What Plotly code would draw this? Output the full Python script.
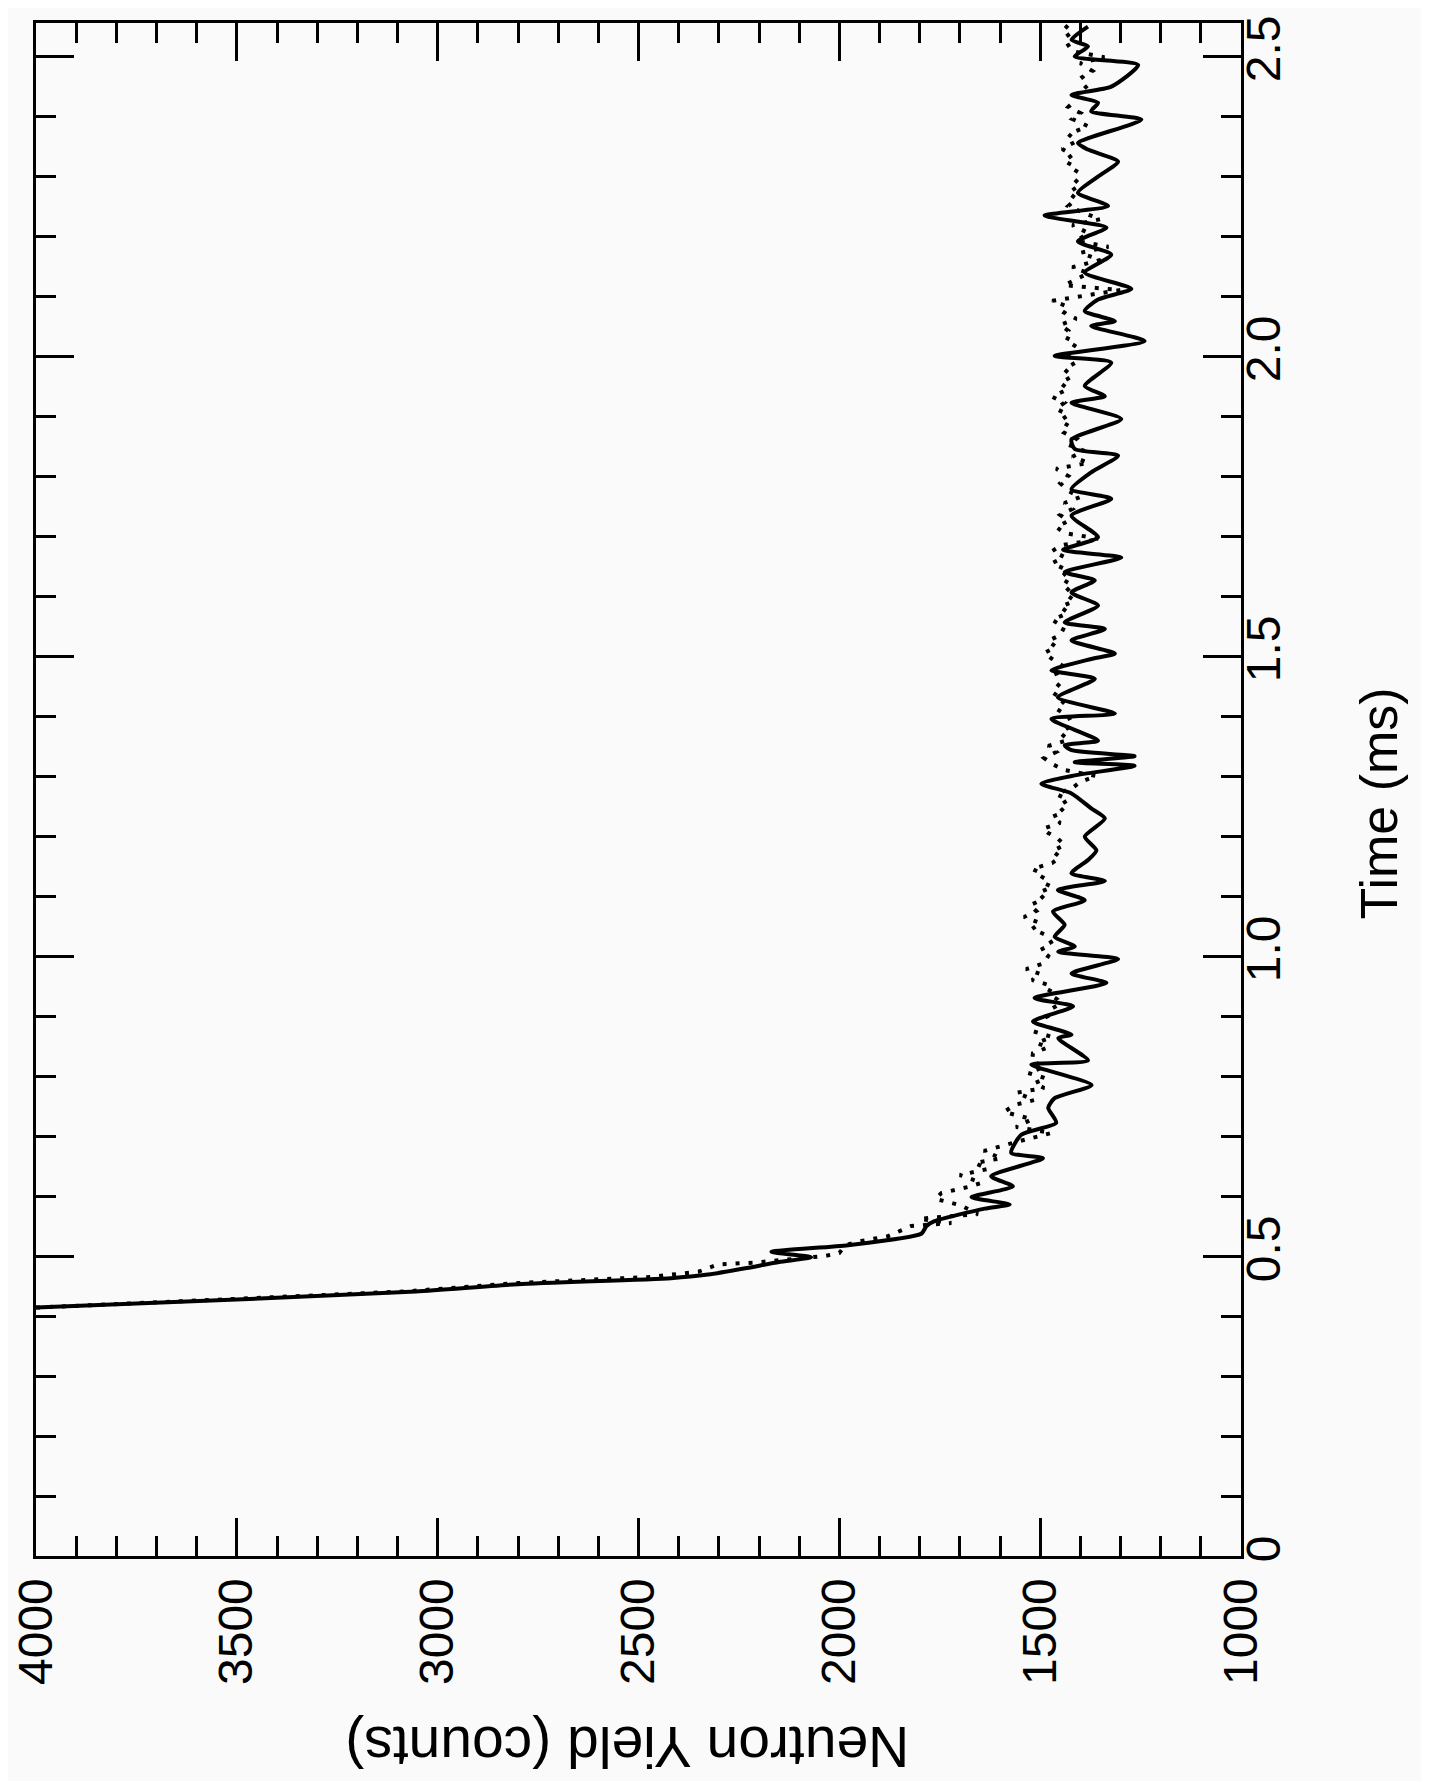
import plotly.graph_objects as go

# Solid trace: time (ms) and neutron yield (counts)
solid_time = [0.414, 0.428, 0.441, 0.453, 0.463, 0.469, 0.480, 0.490, 0.498, 0.507,
              0.518, 0.537, 0.550, 0.558, 0.579, 0.586, 0.598, 0.616, 0.633, 0.663,
              0.672, 0.702, 0.722, 0.747, 0.763, 0.785, 0.819, 0.826, 0.863, 0.869,
              0.891, 0.916, 0.930, 0.955, 0.971, 0.995, 1.007, 1.016, 1.032, 1.052,
              1.074, 1.093, 1.110, 1.125, 1.138, 1.160, 1.176, 1.199, 1.229, 1.246,
              1.271, 1.287, 1.301, 1.317, 1.323, 1.333, 1.343, 1.351, 1.359, 1.395,
              1.404, 1.431, 1.462, 1.476, 1.495, 1.504, 1.526, 1.545, 1.556, 1.584,
              1.606, 1.626, 1.640, 1.664, 1.677, 1.698, 1.734, 1.762, 1.778, 1.806,
              1.834, 1.845, 1.861, 1.895, 1.922, 1.933, 1.950, 1.989, 2.000, 2.025,
              2.050, 2.058, 2.075, 2.094, 2.112, 2.139, 2.169, 2.191, 2.214, 2.234,
              2.250, 2.272, 2.299, 2.324, 2.344, 2.355, 2.394, 2.408, 2.422, 2.435,
              2.449, 2.485, 2.499, 2.516, 2.527, 2.549]
solid_yield = [4000, 3485, 3054, 2800, 2419, 2327, 2230, 2150, 2070, 2169,
               1978, 1796, 1783, 1763, 1638, 1576, 1671, 1568, 1622, 1493,
               1572, 1547, 1460, 1480, 1464, 1372, 1522, 1381, 1455, 1422,
               1518, 1418, 1514, 1335, 1422, 1306, 1455, 1414, 1464, 1439,
               1468, 1389, 1456, 1339, 1422, 1381, 1360, 1389, 1339, 1373,
               1422, 1497, 1414, 1265, 1414, 1265, 1422, 1439, 1356, 1472,
               1314, 1456, 1364, 1472, 1373, 1314, 1422, 1339, 1439, 1356,
               1422, 1364, 1439, 1298, 1443, 1356, 1422, 1323, 1422, 1373,
               1306, 1414, 1422, 1298, 1422, 1339, 1389, 1323, 1464, 1240,
               1373, 1314, 1389, 1356, 1273, 1389, 1323, 1406, 1335, 1489,
               1331, 1406, 1356, 1306, 1381, 1406, 1248, 1373, 1356, 1422,
               1323, 1256, 1414, 1381, 1422, 1381]

# Dotted trace
dot_time = [0.414, 0.428, 0.441, 0.455, 0.465, 0.474, 0.486, 0.489, 0.500, 0.505,
            0.518, 0.525, 0.533, 0.550, 0.555, 0.562, 0.570, 0.585, 0.595, 0.605,
            0.615, 0.622, 0.635, 0.645, 0.655, 0.663, 0.675, 0.690, 0.705, 0.715,
            0.728, 0.740, 0.752, 0.760, 0.772, 0.780, 0.788, 0.796, 0.805, 0.815,
            0.825, 0.838, 0.848, 0.855, 0.865, 0.875, 0.888, 0.900, 0.912, 0.920,
            0.927, 0.938, 0.950, 0.960, 0.970, 0.978, 0.988, 1.000, 1.010, 1.020,
            1.035, 1.045, 1.055, 1.065, 1.075, 1.085, 1.095, 1.105, 1.115, 1.125,
            1.136, 1.145, 1.155, 1.165, 1.175, 1.185, 1.198, 1.205, 1.212, 1.222,
            1.232, 1.240, 1.250, 1.260, 1.270, 1.280, 1.290, 1.300, 1.310, 1.320,
            1.330, 1.340, 1.350, 1.360, 1.372, 1.385, 1.400, 1.412, 1.425, 1.440,
            1.455, 1.470, 1.482, 1.495, 1.505, 1.515, 1.525, 1.535, 1.548, 1.560,
            1.572, 1.582, 1.592, 1.605, 1.618, 1.630, 1.642, 1.655, 1.665, 1.675,
            1.685, 1.695, 1.705, 1.715, 1.725, 1.735, 1.745, 1.755, 1.765, 1.775,
            1.788, 1.800, 1.812, 1.822, 1.832, 1.842, 1.852, 1.862, 1.872, 1.882,
            1.892, 1.902, 1.912, 1.922, 1.932, 1.945, 1.955, 1.966, 1.978, 1.990,
            2.000, 2.012, 2.022, 2.032, 2.042, 2.052, 2.062, 2.072, 2.082, 2.092,
            2.102, 2.110, 2.118, 2.128, 2.138, 2.148, 2.160, 2.172, 2.182, 2.192,
            2.205, 2.218, 2.228, 2.238, 2.250, 2.262, 2.272, 2.285, 2.298, 2.313,
            2.325, 2.335, 2.345, 2.358, 2.370, 2.383, 2.395, 2.405, 2.415, 2.428,
            2.440, 2.452, 2.465, 2.475, 2.488, 2.498, 2.508, 2.518, 2.530, 2.540,
            2.552]
dot_yield = [4000, 3520, 3080, 2800, 2470, 2350, 2302, 2211, 2036, 2000,
             1985, 1945, 1879, 1821, 1721, 1800, 1655, 1700, 1760, 1746,
             1680, 1646, 1700, 1630, 1663, 1597, 1640, 1560, 1472, 1560,
             1520, 1590, 1563, 1514, 1560, 1490, 1514, 1485, 1530, 1490,
             1520, 1518, 1480, 1510, 1470, 1520, 1514, 1480, 1472, 1450,
             1456, 1480, 1470, 1520, 1500, 1535, 1490, 1480, 1500, 1470,
             1485, 1520, 1500, 1540, 1510, 1525, 1490, 1505, 1470, 1500,
             1490, 1520, 1470, 1450, 1470, 1439, 1460, 1480, 1493, 1450,
             1470, 1440, 1455, 1430, 1460, 1420, 1400, 1360, 1440, 1470,
             1490, 1460, 1480, 1430, 1450, 1420, 1430, 1460, 1440, 1470,
             1450, 1460, 1440, 1470, 1490, 1460, 1480, 1450, 1440, 1470,
             1430, 1450, 1414, 1440, 1420, 1450, 1430, 1470, 1440, 1470,
             1445, 1350, 1440, 1460, 1430, 1450, 1420, 1440, 1400, 1430,
             1450, 1430, 1460, 1380, 1420, 1390, 1430, 1410, 1440, 1425,
             1450, 1430, 1460, 1440, 1470, 1430, 1450, 1420, 1440, 1410,
             1430, 1420, 1410, 1440, 1430, 1450, 1410, 1440, 1430, 1470,
             1380, 1300, 1440, 1410, 1380, 1420, 1350, 1400, 1330, 1410,
             1380, 1420, 1350, 1390, 1430, 1410, 1430, 1400, 1420, 1406,
             1440, 1420, 1445, 1410, 1430, 1381, 1420, 1400, 1430, 1410,
             1400, 1380, 1395, 1370, 1400, 1340, 1420, 1430, 1440, 1420,
             1440]

yield_ticks = [4000, 3500, 3000, 2500, 2000, 1500, 1000]
yield_labels = ["4000", "3500", "3000", "2500", "2000", "1500", "1000"]
time_ticks = [0, 0.5, 1.0, 1.5, 2.0, 2.5]
time_labels = ["0", "0.5", "1.0", "1.5", "2.0", "2.5"]

FONT = "Liberation Sans, Arial, Helvetica, sans-serif"
BG = "#fafafa"

fig = go.Figure()
fig.add_trace(go.Scatter(
    x=dot_yield, y=dot_time, mode="lines",
    line=dict(color="black", width=4, dash="4px,9px"),
    showlegend=False, hoverinfo="skip"))
fig.add_trace(go.Scatter(
    x=solid_yield, y=solid_time, mode="lines",
    line=dict(color="black", width=4, shape="spline", smoothing=0.6),
    showlegend=False, hoverinfo="skip"))

fig.update_layout(
    width=1429, height=1781,
    margin=dict(l=28, r=196, t=15, b=233, autoexpand=False),
    paper_bgcolor=BG, plot_bgcolor=BG,
    font=dict(family=FONT, color="black"),
    xaxis=dict(
        range=[4000, 1000], showgrid=False, zeroline=False, automargin=False,
        showline=True, linecolor="black", linewidth=3, mirror="ticks",
        ticks="inside", ticklen=38, tickwidth=3, tickcolor="black",
        tickvals=yield_ticks, ticktext=yield_labels, tickangle=-90,
        tickfont=dict(size=48, family=FONT, color="black"),
        minor=dict(dtick=100, ticks="inside", ticklen=20, tickwidth=3,
                   tickcolor="black", showgrid=False),
    ),
    yaxis=dict(
        range=[0, 2.555], side="right", showgrid=False, zeroline=False,
        automargin=False, ticklabelstandoff=-22,
        showline=True, linecolor="black", linewidth=3, mirror="ticks",
        ticks="inside", ticklen=38, tickwidth=3, tickcolor="black",
        tickvals=time_ticks, ticktext=time_labels, tickangle=-90,
        tickfont=dict(size=48, family=FONT, color="black"),
        minor=dict(dtick=0.1, ticks="inside", ticklen=20, tickwidth=3,
                   tickcolor="black", showgrid=False),
    ),
    annotations=[
        dict(text="Time (ms)", xref="paper", yref="paper", x=1.1146, y=0.491,
             xanchor="center", yanchor="middle",
             textangle=-90, showarrow=False,
             font=dict(size=52, family=FONT, color="black")),
        dict(text="Neutron Yield (counts)", xref="paper", yref="paper",
             x=0.491, y=-0.1245, xanchor="center", yanchor="middle",
             textangle=180, showarrow=False,
             font=dict(size=57, family=FONT, color="black")),
    ],
)

fig.write_html("out.html")
